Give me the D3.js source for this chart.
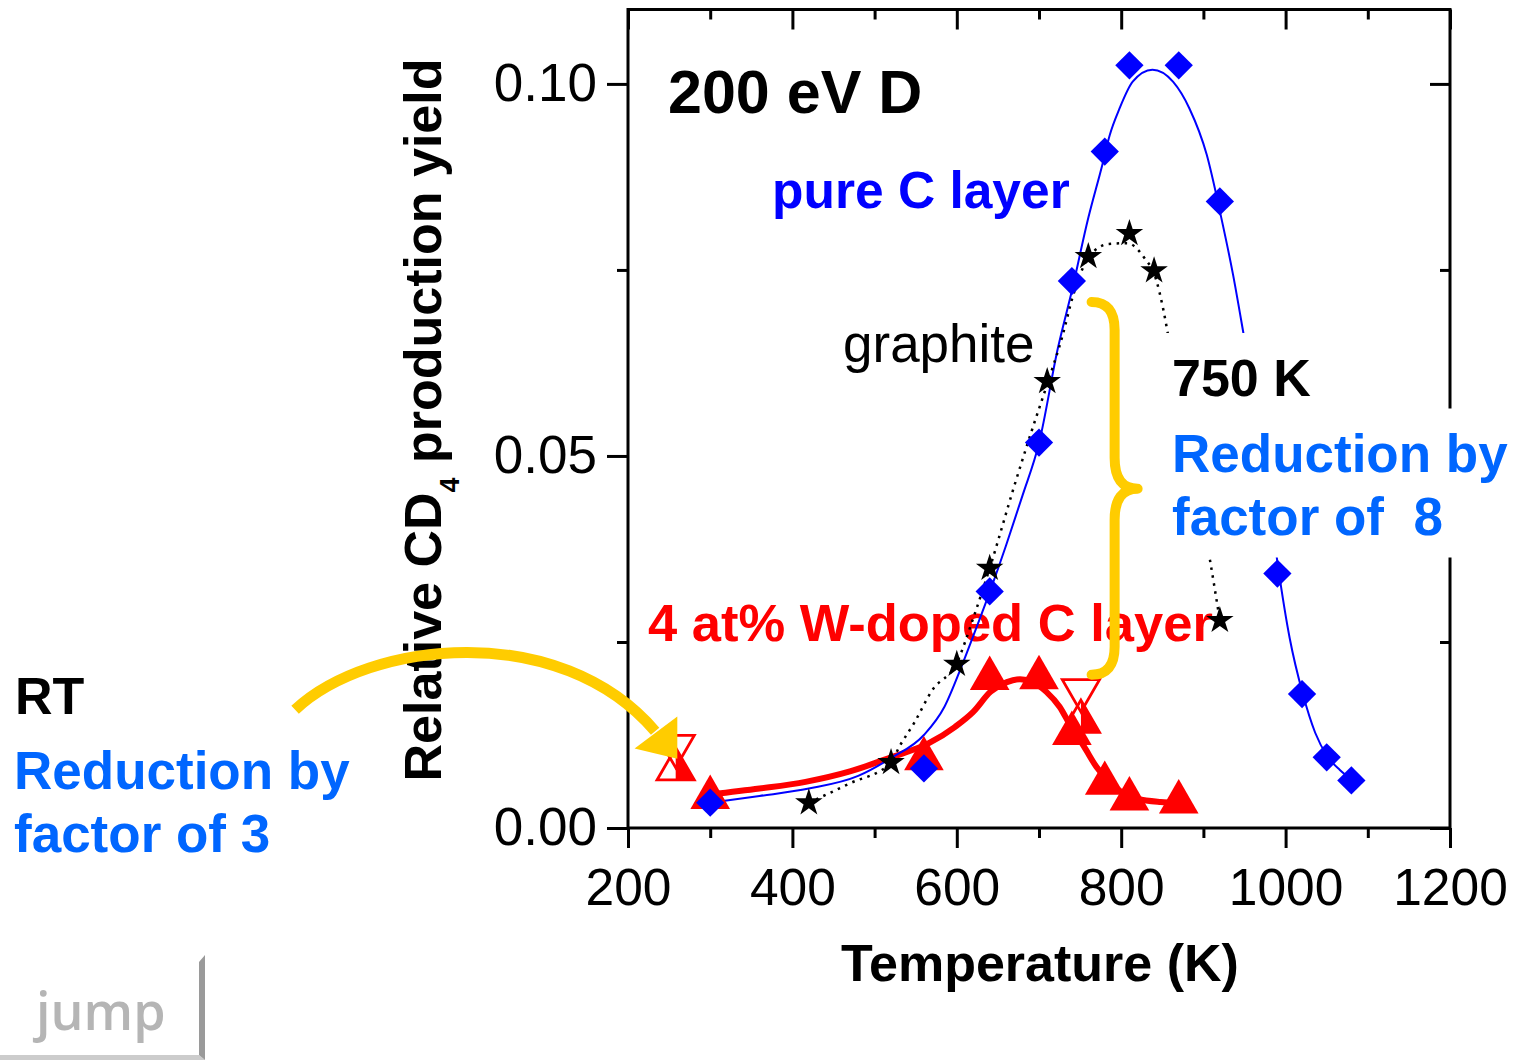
<!DOCTYPE html>
<html>
<head>
<meta charset="utf-8">
<title>CD4 production yield vs temperature</title>
<script src="https://cdn.jsdelivr.net/npm/d3@7"></script>
<style>
  html, body { margin: 0; padding: 0; background: #fff; }
  svg { display: block; }
</style>
</head>
<body>
<svg id="chart" width="1515" height="1060"></svg>
<script>
// ---- measured points: temperature (K) and relative CD4 yield ----
const pureC_T   = [300, 560, 640, 700, 740, 780, 810, 870, 920, 990, 1020, 1050, 1080];
const pureC_Y   = [0.0034, 0.0080, 0.0318, 0.0518, 0.0735, 0.0909, 0.1025, 0.1025, 0.0842, 0.0342, 0.0180, 0.0095, 0.0064];

const graphite_T = [420, 520, 600, 640, 710, 760, 810, 840, 920];
const graphite_Y = [0.0034, 0.0088, 0.0220, 0.0349, 0.0600, 0.0768, 0.0799, 0.0749, 0.0279];

const wDoped_T = [300, 560, 640, 700, 740, 780, 810, 870];
const wDoped_Y = [0.0041, 0.0093, 0.0201, 0.0202, 0.0127, 0.0060, 0.0039, 0.0035];

// open (down) and half-filled (up) triangles of the W-doped layer at RT and 750 K
const openDown_T = [258, 751];
const openDown_Y = [0.0110, 0.0185];
const halfUp_T   = [258, 751];
const halfUp_Y   = [0.0079, 0.0143];

// ---- guide curves through the data: [temperature, yield] ----
const pureC_fit = [[300,0.0034],[360,0.0043],[420,0.0053],[480,0.0070],[520,0.0094],[560,0.0125],
  [585,0.0163],[605,0.0215],[620,0.0258],[640,0.0317],[660,0.0380],[680,0.0447],[700,0.0517],
  [723,0.0645],[740,0.0722],[760,0.0820],[777,0.0891],[786,0.0931],[798,0.0967],[814,0.1003],
  [838,0.1019],[863,0.1003],[883,0.0967],[904,0.0905],[921,0.0824],[936,0.0744],[949,0.0663],
  [965,0.0560],[980,0.0440],[991,0.0350],[1005,0.0255],[1021,0.0180],[1036,0.0128],[1051,0.0096],
  [1066,0.0078],[1082,0.0064]];

const graphite_fit = [[420,0.0034],[470,0.0060],[520,0.0088],[530,0.0109],[548,0.0141],[570,0.0185],
  [600,0.0222],[620,0.0282],[640,0.0349],[670,0.0460],[690,0.0530],[711,0.0600],[729,0.0663],
  [740,0.0710],[761,0.0768],[785,0.0785],[807,0.0786],[827,0.0768],[843,0.0735],[851,0.0698],
  [857,0.0663],[880,0.0520],[908,0.0360],[920,0.0279]];

const wDoped_fit = [[300,0.0045],[360,0.0053],[416,0.0062],[470,0.0076],[520,0.0095],[566,0.0114],
  [598,0.0136],[620,0.0156],[641,0.0183],[661,0.0196],[677,0.0200],[693,0.0196],[709,0.0183],
  [725,0.0163],[739,0.0136],[755,0.0109],[770,0.0082],[784,0.0064],[802,0.0047],[820,0.0039],
  [848,0.0035],[870,0.0034]];

// ---- axis ticks ----
const xMajorTicks = [200, 400, 600, 800, 1000, 1200];
const xMinorTicks = [300, 500, 700, 900, 1100];
const xTickLabels = ["200", "400", "600", "800", "1000", "1200"];
const yMajorTicks = [0, 0.05, 0.10];
const yMinorTicks = [0.025, 0.075];
const yTickLabels = ["0.00", "0.05", "0.10"];

// ---- annotation anchors, in data units ----
const braceT = [764, 792, 820];            // outer ends, spine, tip
const braceY = [0.0707, 0.0456, 0.0206];   // top, tip, bottom
const arrowT = [-205, -114, 117, 233];     // shaft: start, two controls, end
const arrowY = [0.0159, 0.0253, 0.0280, 0.0130];
const arrowHeadT = [260, 260, 208];        // tip and two barbs
const arrowHeadY = [0.0093, 0.0150, 0.0107];

// ---- drawing ----
const FONT = '"Liberation Sans", Arial, Helvetica, sans-serif';
const BLUE = "#0000ff", RED = "#ff0000", LIGHTBLUE = "#0066ff", YELLOW = "#ffcc00";

const svg = d3.select("#chart").attr("font-family", FONT);
svg.append("rect").attr("width", 1515).attr("height", 1060).attr("fill", "#fff");

const x = d3.scaleLinear().domain([200, 1200]).range([628, 1450]);
const y = d3.scaleLinear().domain([0, 0.11]).range([828, 9.5]);
const [X0, X1] = x.range();
const [Y0, Y1] = y.range();

function finishAxis(g, size) {
  g.select(".domain").remove();
  g.selectAll(".tick line").attr("stroke", "#000").attr("stroke-width", 3);
  g.attr("font-family", FONT).attr("font-size", size);
  g.selectAll(".tick text").attr("fill", "#000");
}

// bottom and left: ticks outward, with labels
svg.append("g").attr("transform", `translate(0,${Y0})`)
  .call(d3.axisBottom(x).tickValues(xMajorTicks).tickSize(20).tickPadding(20)
    .tickFormat((d, i) => xTickLabels[i]))
  .call(g => finishAxis(g, 51.5));
svg.append("g").attr("transform", `translate(0,${Y0})`)
  .call(d3.axisBottom(x).tickValues(xMinorTicks).tickSize(10).tickFormat(""))
  .call(g => finishAxis(g, 10));
svg.append("g").attr("transform", `translate(${X0},0)`)
  .call(d3.axisLeft(y).tickValues(yMajorTicks).tickSize(21).tickPadding(10)
    .tickFormat((d, i) => yTickLabels[i]))
  .call(g => finishAxis(g, 53));
svg.append("g").attr("transform", `translate(${X0},0)`)
  .call(d3.axisLeft(y).tickValues(yMinorTicks).tickSize(11).tickFormat(""))
  .call(g => finishAxis(g, 10));

// top and right: ticks inward, no labels
svg.append("g").attr("transform", `translate(0,${Y1})`)
  .call(d3.axisTop(x).tickValues(xMajorTicks).tickSizeInner(-20).tickSizeOuter(0).tickFormat(""))
  .call(g => finishAxis(g, 10));
svg.append("g").attr("transform", `translate(0,${Y1})`)
  .call(d3.axisTop(x).tickValues(xMinorTicks).tickSizeInner(-10).tickSizeOuter(0).tickFormat(""))
  .call(g => finishAxis(g, 10));
svg.append("g").attr("transform", `translate(${X1},0)`)
  .call(d3.axisRight(y).tickValues(yMajorTicks).tickSizeInner(-20).tickSizeOuter(0).tickFormat(""))
  .call(g => finishAxis(g, 10));
svg.append("g").attr("transform", `translate(${X1},0)`)
  .call(d3.axisRight(y).tickValues(yMinorTicks).tickSizeInner(-10).tickSizeOuter(0).tickFormat(""))
  .call(g => finishAxis(g, 10));

// plot frame
svg.append("rect")
  .attr("x", X0).attr("y", Y1).attr("width", X1 - X0).attr("height", Y0 - Y1)
  .attr("fill", "none").attr("stroke", "#000").attr("stroke-width", 3);

// axis titles
const yTitle = svg.append("text")
  .attr("transform", "translate(441,420) rotate(-90)")
  .attr("text-anchor", "middle").attr("font-weight", "bold").attr("font-size", 52).attr("fill", "#000");
yTitle.append("tspan").text("Relative CD");
yTitle.append("tspan").attr("font-size", 27).attr("dy", 18).text("4");
yTitle.append("tspan").attr("dy", -18).text(" production yield");

svg.append("text").attr("x", (X0 + X1) / 2 + 1).attr("y", 981)
  .attr("text-anchor", "middle").attr("font-weight", "bold").attr("font-size", 52)
  .text("Temperature (K)");

// labels inside the plot (drawn beneath the data)
function label(txt, px, py, size, color, weight) {
  return svg.append("text").attr("x", px).attr("y", py)
    .attr("font-size", size).attr("fill", color).attr("font-weight", weight || "bold")
    .attr("xml:space", "preserve").style("white-space", "pre").text(txt);
}
label("200 eV D", 668, 113, 61, "#000");
label("pure C layer", 772, 208, 51.5, BLUE);
label("graphite", 843, 362, 53, "#000", "normal");
label("4 at% W-doped C layer", 648, 641, 52.5, RED);

// room-temperature annotation left of the axis
label("RT", 15, 714, 52, "#000");
label("Reduction by", 14, 789, 53, LIGHTBLUE);
label("factor of 3", 14, 852, 53, LIGHTBLUE);

// guide curves
const line = d3.line().x(d => x(d[0])).y(d => y(d[1])).curve(d3.curveMonotoneX);
svg.append("path").datum(wDoped_fit).attr("d", line)
  .attr("fill", "none").attr("stroke", RED).attr("stroke-width", 6).attr("stroke-linejoin", "round");
svg.append("path").datum(pureC_fit).attr("d", line)
  .attr("fill", "none").attr("stroke", BLUE).attr("stroke-width", 2);
svg.append("path").datum(graphite_fit).attr("d", line)
  .attr("fill", "none").attr("stroke", "#000").attr("stroke-width", 2.5)
  .attr("stroke-dasharray", "2.5,5.5");

// markers
const TRI_SIZE = 680;
const triA = Math.sqrt(TRI_SIZE / (Math.sqrt(3) * 3));
const triPath = d3.symbol(d3.symbolTriangle, TRI_SIZE)();
const halfRightPath = `M0,${-2 * triA}L${Math.sqrt(3) * triA},${triA}L0,${triA}Z`;
const openTriPath = d3.symbol(d3.symbolTriangle, 600)();
const openA = Math.sqrt(600 / (Math.sqrt(3) * 3));
const openHalfPath = `M0,${-2 * openA}L${Math.sqrt(3) * openA},${openA}L0,${openA}Z`;

// half-filled up triangles (outline with right half solid)
const halfG = svg.append("g").selectAll("g")
  .data(halfUp_T.map((t, i) => [t, halfUp_Y[i]])).join("g")
  .attr("transform", d => `translate(${x(d[0])},${y(d[1])})`);
halfG.append("path").attr("d", openTriPath).attr("fill", "#fff").attr("stroke", RED).attr("stroke-width", 2.8);
halfG.append("path").attr("d", openHalfPath).attr("fill", RED);

// open down triangles
svg.append("g").selectAll("path")
  .data(openDown_T.map((t, i) => [t, openDown_Y[i]])).join("path")
  .attr("d", openTriPath)
  .attr("transform", d => `translate(${x(d[0])},${y(d[1])}) rotate(180)`)
  .attr("fill", "none").attr("stroke", RED).attr("stroke-width", 2.8);

// filled up triangles
svg.append("g").selectAll("path")
  .data(wDoped_T.map((t, i) => [t, wDoped_Y[i]])).join("path")
  .attr("d", triPath)
  .attr("transform", d => `translate(${x(d[0])},${y(d[1])})`)
  .attr("fill", RED);

// diamonds
svg.append("g").selectAll("path")
  .data(pureC_T.map((t, i) => [t, pureC_Y[i]])).join("path")
  .attr("d", d3.symbol(d3.symbolSquare, 400)())
  .attr("transform", d => `translate(${x(d[0])},${y(d[1])}) rotate(45)`)
  .attr("fill", BLUE);

// stars
svg.append("g").selectAll("path")
  .data(graphite_T.map((t, i) => [t, graphite_Y[i]])).join("path")
  .attr("d", d3.symbol(d3.symbolStar, 235)())
  .attr("transform", d => `translate(${x(d[0])},${y(d[1])})`)
  .attr("fill", "#000");

// 750 K annotation on white backing
const boxG = svg.append("g");
const t750 = label("750 K", 1172, 396, 52, "#000");
const tRed1 = label("Reduction by", 1172, 472, 53, LIGHTBLUE);
const tRed2 = label("factor of  8", 1172, 535, 53, LIGHTBLUE);
const b1 = t750.node().getBBox();
const b3 = tRed2.node().getBBox();
const box1Top = b1.y - 16, box1Bottom = b1.y + b1.height + 2;
boxG.append("rect").attr("x", b1.x - 12).attr("y", box1Top)
  .attr("width", b1.width + 30).attr("height", box1Bottom - box1Top).attr("fill", "#fff");
boxG.append("rect").attr("x", b1.x - 12).attr("y", box1Bottom - 0.5)
  .attr("width", 1515 - (b1.x - 12)).attr("height", (b3.y + b3.height + 12) - box1Bottom).attr("fill", "#fff");
t750.raise(); tRed1.raise(); tRed2.raise();

// curly brace spanning the reduction at 750 K
(function () {
  const xo = x(braceT[0]), xs = x(braceT[1]), xt = x(braceT[2]);
  const yt = y(braceY[0]), ym = y(braceY[1]), yb = y(braceY[2]);
  const r = xs - xo, rt = xt - xs;
  const p = d3.path();
  p.moveTo(xo, yt);
  p.quadraticCurveTo(xs, yt, xs, yt + r + 5);
  p.lineTo(xs, ym - rt - 8);
  p.quadraticCurveTo(xs, ym, xt, ym);
  p.quadraticCurveTo(xs, ym, xs, ym + rt + 8);
  p.lineTo(xs, yb - r - 5);
  p.quadraticCurveTo(xs, yb, xo, yb);
  svg.append("path").attr("d", p.toString()).attr("fill", "none")
    .attr("stroke", YELLOW).attr("stroke-width", 10).attr("stroke-linecap", "round").attr("stroke-linejoin", "round");
})();

// curved arrow pointing at the RT markers
(function () {
  const p = d3.path();
  p.moveTo(x(arrowT[0]), y(arrowY[0]));
  p.bezierCurveTo(x(arrowT[1]), y(arrowY[1]), x(arrowT[2]), y(arrowY[2]), x(arrowT[3]), y(arrowY[3]));
  svg.append("path").attr("d", p.toString()).attr("fill", "none")
    .attr("stroke", YELLOW).attr("stroke-width", 11);
  const head = arrowHeadT.map((t, i) => [x(t), y(arrowHeadY[i])]);
  svg.append("path").attr("d", "M" + head.join("L") + "Z").attr("fill", YELLOW);
})();

// "jump" navigation button
const btn = svg.append("g");
btn.append("path").attr("d", "M0,1055L199,1055L205,1060L0,1060Z").attr("fill", "#cccccc");
btn.append("path").attr("d", "M199,962L205,955L205,1060L199,1055Z").attr("fill", "#9a9a9a");
btn.append("text").attr("x", 36).attr("y", 1030)
  .attr("font-family", '"Open Sans", "Noto Sans", sans-serif').attr("font-weight", 600)
  .attr("font-size", 52).attr("fill", "#b5b5b5").text("jump");
</script>
</body>
</html>
